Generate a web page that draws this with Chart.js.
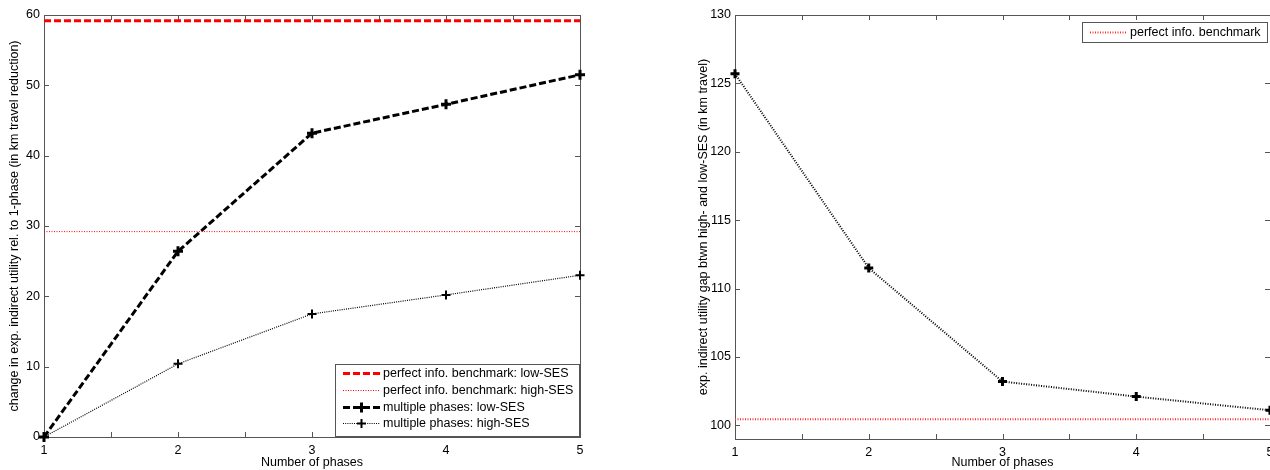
<!DOCTYPE html>
<html lang="en">
<head>
<meta charset="UTF-8" />
<title>Multiple phases vs perfect information</title>
<script src="https://cdn.jsdelivr.net/npm/chart.js"></script>
<style>
  html, body { margin: 0; padding: 0; background: #fff; overflow: hidden; }
  body { width: 1270px; height: 470px; position: relative; }
  .panel { position: absolute; top: 0; width: 600px; height: 470px; }
  #leftPanel { left: 0; }
  #rightPanel { left: 690px; }
</style>
</head>
<body>
<div class="panel" id="leftPanel"><canvas id="gainChart" width="600" height="470"></canvas></div>
<div class="panel" id="rightPanel"><canvas id="gapChart" width="600" height="470"></canvas></div>
<script>
// shared x axis
const phases = [1, 2, 3, 4, 5];
const phaseTicks = [1, 1.5, 2, 2.5, 3, 3.5, 4, 4.5, 5];

// left panel: change rel. to 1-phase
const gainLowSES = [0, 26.4, 43.2, 47.3, 51.5];
const gainHighSES = [0, 10.4, 17.5, 20.2, 23.0];
const benchLowSES = 59.2;
const benchHighSES = 29.2;
const gainTicks = [0, 10, 20, 30, 40, 50, 60];

// right panel: gap between high- and low-SES
const gapSES = [125.7, 111.5, 103.2, 102.1, 101.1];
const benchGap = 100.45;
const gapTicks = [100, 105, 110, 115, 120, 125, 130];

const FONT = { family: '"Liberation Sans", Arial, sans-serif', size: 12.5 };
const AXIS_COLOR = '#555';

const pts = (ys) => phases.map((p, i) => ({ x: p, y: ys[i] }));
const flat = (v) => phases.map(p => ({ x: p, y: v }));

function drawPlus(ctx, x, y, r, w, color) {
  ctx.save();
  ctx.setLineDash([]);
  ctx.strokeStyle = color;
  ctx.lineWidth = w;
  ctx.beginPath();
  ctx.moveTo(x - r, y); ctx.lineTo(x + r, y);
  ctx.moveTo(x, y - r); ctx.lineTo(x, y + r);
  ctx.stroke();
  ctx.restore();
}

// matlab-like box with inward ticks
const boxTicks = {
  id: 'boxTicks',
  beforeDatasetsDraw(chart) {
    const { ctx, chartArea: a, scales: { x, y } } = chart;
    const len = 5;
    ctx.save();
    ctx.strokeStyle = AXIS_COLOR;
    ctx.lineWidth = 1;
    ctx.beginPath();
    x.ticks.forEach(t => {
      const px = Math.round(x.getPixelForValue(t.value)) + 0.5;
      ctx.moveTo(px, a.bottom); ctx.lineTo(px, a.bottom - len);
      ctx.moveTo(px, a.top); ctx.lineTo(px, a.top + len);
    });
    y.ticks.forEach(t => {
      const py = Math.round(y.getPixelForValue(t.value)) + 0.5;
      ctx.moveTo(a.left, py); ctx.lineTo(a.left + len, py);
      ctx.moveTo(a.right, py); ctx.lineTo(a.right - len, py);
    });
    ctx.stroke();
    ctx.strokeRect(Math.round(a.left) + 0.5, Math.round(a.top) + 0.5,
      Math.round(a.right - a.left), Math.round(a.bottom - a.top));
    ctx.restore();
  }
};

// legend drawn inside the plot area
const insetLegend = {
  id: 'insetLegend',
  afterDatasetsDraw(chart, args, opts) {
    const items = chart.data.datasets.filter(d => d.inLegend !== false);
    const { ctx, chartArea: a } = chart;
    ctx.save();
    ctx.font = FONT.size + 'px ' + FONT.family;
    const rowH = opts.rowHeight;
    const sample = 37, padL = 8, gap = 3, padR = 6;
    const textW = Math.max(...items.map(d => ctx.measureText(d.label).width));
    const w = Math.round(padL + sample + gap + textW + padR);
    const h = Math.round(items.length * rowH + opts.padTop + opts.padBottom);
    const left = Math.round(a.right - opts.offsetX - w);
    const top = opts.corner === 'top-right'
      ? Math.round(a.top + opts.offsetY)
      : Math.round(a.bottom - opts.offsetY - h);
    ctx.fillStyle = '#fff';
    ctx.fillRect(left, top, w, h);
    ctx.strokeStyle = AXIS_COLOR;
    ctx.lineWidth = 1;
    ctx.strokeRect(left + 0.5, top + 0.5, w, h);
    items.forEach((d, i) => {
      const cy = Math.round(top + opts.padTop + rowH * (i + 0.5)) + 0.5;
      const x0 = left + padL;
      ctx.save();
      ctx.strokeStyle = d.borderColor;
      ctx.lineWidth = d.borderWidth;
      ctx.setLineDash(d.borderDash || []);
      ctx.beginPath();
      ctx.moveTo(x0, cy); ctx.lineTo(x0 + sample, cy);
      ctx.stroke();
      ctx.restore();
      if (d.pointRadius > 0) {
        drawPlus(ctx, x0 + sample / 2, cy, d.pointRadius, d.pointBorderWidth, d.borderColor);
      }
      ctx.fillStyle = '#000';
      ctx.textBaseline = 'middle';
      ctx.fillText(d.label, x0 + sample + gap, cy);
    });
    ctx.restore();
  }
};

function xScale(height) {
  return {
    type: 'linear', min: 1, max: 5,
    afterBuildTicks: s => { s.ticks = phaseTicks.map(v => ({ value: v })); },
    afterFit: s => { s.height = height; },
    grid: { display: false, drawTicks: false },
    border: { display: false },
    ticks: {
      color: '#000', font: FONT, padding: 6, maxRotation: 0, autoSkip: false,
      callback: v => Number.isInteger(v) ? String(v) : ''
    },
    title: { display: true, text: 'Number of phases', color: '#000', font: FONT, padding: 0 }
  };
}

function yScale(min, max, tickList, width, title, titlePad) {
  return {
    type: 'linear', min: min, max: max,
    afterBuildTicks: s => { s.ticks = tickList.map(v => ({ value: v })); },
    afterFit: s => { s.width = width; },
    grid: { display: false, drawTicks: false },
    border: { display: false },
    ticks: { color: '#000', font: FONT, padding: 4 },
    title: { display: true, text: title, color: '#000', font: FONT, padding: { top: titlePad, bottom: 0 } }
  };
}

const baseOptions = {
  responsive: false,
  animation: false,
  plugins: { legend: { display: false }, tooltip: { enabled: false } },
  elements: { line: { tension: 0 } }
};

new Chart(document.getElementById('gainChart'), {
  type: 'line',
  data: {
    datasets: [
      {
        label: 'perfect info. benchmark: low-SES', data: flat(benchLowSES),
        borderColor: '#ff0000', borderWidth: 3, borderDash: [7, 3], pointRadius: 0
      },
      {
        label: 'perfect info. benchmark: high-SES', data: flat(benchHighSES),
        borderColor: '#ff0000', borderWidth: 1, borderDash: [1, 1.5], pointRadius: 0
      },
      {
        label: 'multiple phases: low-SES', data: pts(gainLowSES), clip: false,
        borderColor: '#000', borderWidth: 3, borderDash: [7, 3],
        pointStyle: 'cross', pointRadius: 5, pointBorderWidth: 3, pointBorderColor: '#000'
      },
      {
        label: 'multiple phases: high-SES', data: pts(gainHighSES), clip: false,
        borderColor: '#000', borderWidth: 1.2, borderDash: [1, 1.2],
        pointStyle: 'cross', pointRadius: 4.5, pointBorderWidth: 2, pointBorderColor: '#000'
      }
    ]
  },
  options: {
    ...baseOptions,
    layout: { padding: { top: 15, right: 20, left: 0, bottom: 0 } },
    plugins: {
      ...baseOptions.plugins,
      insetLegend: { corner: 'bottom-right', offsetX: 1, offsetY: 1, rowHeight: 16.7, padTop: 1, padBottom: 4 }
    },
    scales: {
      x: xScale(33),
      y: yScale(0, 60, gainTicks, 44,
        'change in exp. indirect utility rel. to 1-phase (in km travel reduction)', 7)
    }
  },
  plugins: [boxTicks, insetLegend]
});

new Chart(document.getElementById('gapChart'), {
  type: 'line',
  data: {
    datasets: [
      {
        label: 'perfect info. benchmark', data: flat(benchGap),
        borderColor: '#ff3030', borderWidth: 2, borderDash: [1, 1.5], pointRadius: 0
      },
      {
        label: 'gap', inLegend: false, data: pts(gapSES), clip: false,
        borderColor: '#000', borderWidth: 2, borderDash: [1, 1.5],
        pointStyle: 'cross', pointRadius: 4.5, pointBorderWidth: 3, pointBorderColor: '#000'
      }
    ]
  },
  options: {
    ...baseOptions,
    layout: { padding: { top: 15, right: 20, left: 0, bottom: 0 } },
    plugins: {
      ...baseOptions.plugins,
      insetLegend: { corner: 'top-right', offsetX: 3, offsetY: 7, rowHeight: 18, padTop: 1, padBottom: 1 }
    },
    scales: {
      x: xScale(31),
      y: yScale(99, 130, gapTicks, 45,
        'exp. indirect utility gap btwn high- and low-SES (in km travel)', 6)
    }
  },
  plugins: [boxTicks, insetLegend]
});
</script>
</body>
</html>
